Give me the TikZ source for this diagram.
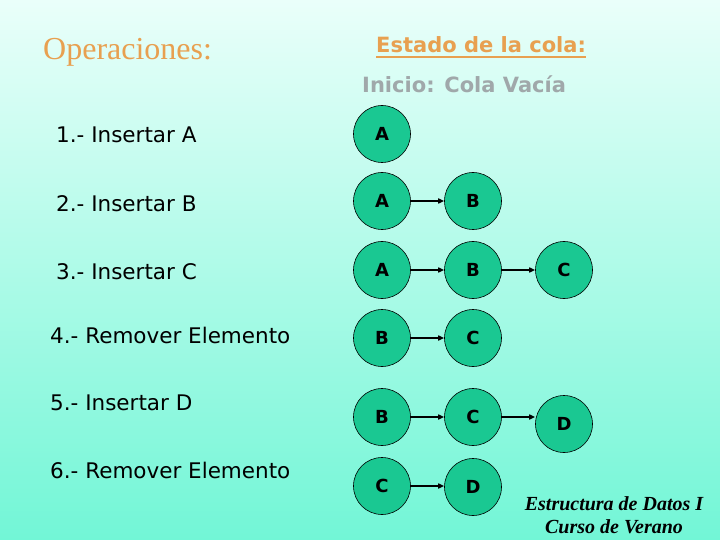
\documentclass[tikz,border=0pt]{standalone}
\usepackage{fontspec}
\setmainfont{Liberation Serif}
\newfontfamily\tah{DejaVu Sans}
\usetikzlibrary{arrows.meta}
\definecolor{bgtop}{RGB}{234,255,250}
\definecolor{bgbot}{RGB}{114,246,214}
\definecolor{nodefill}{RGB}{26,200,146}
\definecolor{orangetxt}{RGB}{232,160,80}
\definecolor{graytxt}{RGB}{160,168,170}
\tikzset{
  qnode/.style={circle, draw=black, line width=0.6bp, fill=nodefill, minimum size=57bp, inner sep=0pt,
    font=\tah\bfseries\fontsize{18bp}{20bp}\selectfont},
  qarrow/.style={draw=black, line width=1.5bp, -{Triangle[length=6bp,width=5bp]}},
  optext/.style={anchor=base west, inner sep=0pt, font=\tah\fontsize{21.5bp}{26bp}\selectfont, text=black},
  credit/.style={anchor=base, inner sep=0pt, font=\bfseries\itshape\fontsize{20bp}{22bp}\selectfont}
}
\begin{document}
\begin{tikzpicture}[x=1bp,y=-1bp]
\useasboundingbox (0,0) rectangle (720,540);
\shade[top color=bgtop, bottom color=bgbot] (0,0) rectangle (720,540);

% headings
\node[anchor=base west, inner sep=0pt, text=orangetxt, font=\fontsize{32bp}{34bp}\selectfont] (ops) at (43,60) {Operaciones:};
\node[anchor=base west, inner sep=0pt, text=orangetxt, font=\tah\bfseries\fontsize{21bp}{24bp}\selectfont] (est) at (376,53) {Estado de la cola:};
\draw[orangetxt, line width=1.5bp] ([yshift=-4bp]est.base west) -- ([yshift=-4bp]est.base east);
\node[anchor=base west, inner sep=0pt, text=graytxt, font=\tah\bfseries\fontsize{21bp}{24bp}\selectfont] (ini) at (362,93) {Inicio: Cola Vacía};

% operations
\node[optext] (op1) at (56,143) {1.- Insertar A};
\node[optext] (op2) at (56,212) {2.- Insertar B};
\node[optext] (op3) at (56,280) {3.- Insertar C};
\node[optext] (op4) at (50,343) {4.- Remover Elemento};
\node[optext] (op5) at (50,410) {5.- Insertar D};
\node[optext] (op6) at (50,478) {6.- Remover Elemento};

% row 1
\node[qnode] (r1a) at (382,134) {A};
% row 2
\node[qnode] (r2a) at (382,201) {A};
\node[qnode] (r2b) at (473,201) {B};
\draw[qarrow] (r2a) -- (r2b);
% row 3
\node[qnode] (r3a) at (382,270) {A};
\node[qnode] (r3b) at (473,270) {B};
\node[qnode] (r3c) at (564,270) {C};
\draw[qarrow] (r3a) -- (r3b);
\draw[qarrow] (r3b) -- (r3c);
% row 4
\node[qnode] (r4b) at (382,338) {B};
\node[qnode] (r4c) at (473,338) {C};
\draw[qarrow] (r4b) -- (r4c);
% row 5
\node[qnode] (r5b) at (382,417) {B};
\node[qnode] (r5c) at (473,417) {C};
\node[qnode] (r5d) at (564,424) {D};
\draw[qarrow] (r5b) -- (r5c);
\draw[qarrow] (r5c.east) -- (r5d.west |- r5c.east);
% row 6
\node[qnode] (r6c) at (382,486) {C};
\node[qnode] (r6d) at (473,487) {D};
\draw[qarrow] (r6c.east) -- (r6d.west |- r6c.east);

% credit
\node[credit] (cr1) at (614,510) {Estructura de Datos I};
\node[credit] (cr2) at (614,533) {Curso de Verano};
\end{tikzpicture}
\end{document}
